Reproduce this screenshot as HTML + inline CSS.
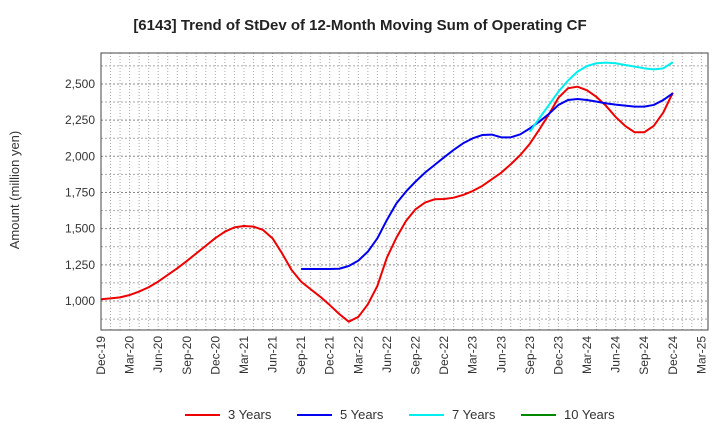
<!DOCTYPE html>
<html><head><meta charset="utf-8"><style>
body{margin:0;background:#fff;font-family:"Liberation Sans",sans-serif;}
</style></head><body>
<svg id="c" width="720" height="440" xmlns="http://www.w3.org/2000/svg" font-family="Liberation Sans, sans-serif">
<text x="360" y="30" text-anchor="middle" font-size="15" font-weight="bold" fill="#222">[6143]  Trend of StDev of 12-Month Moving Sum of Operating CF</text>
<text transform="translate(19,190) rotate(-90)" text-anchor="middle" font-size="13" fill="#333">Amount (million yen)</text>
<g id="grid"></g><g id="series"></g><g id="axes"></g>
</svg>
<script>
const yTicks=[1000,1250,1500,1750,2000,2250,2500];
const xLabels=["Dec-19","Mar-20","Jun-20","Sep-20","Dec-20","Mar-21","Jun-21","Sep-21","Dec-21","Mar-22","Jun-22","Sep-22","Dec-22","Mar-23","Jun-23","Sep-23","Dec-23","Mar-24","Jun-24","Sep-24","Dec-24","Mar-25"];
const s3=[1012,1018,1025,1041,1065,1095,1134,1180,1226,1276,1329,1382,1435,1479,1509,1518,1514,1491,1433,1329,1214,1134,1081,1030,972,910,857,850,890,977,1104,1300,1438,1553,1634,1680,1703,1705,1714,1733,1760,1795,1841,1887,1945,2009,2087,2186,2290,2405,2470,2481,2456,2410,2348,2272,2210,2166,2166,2210,2302,2440].filter((v,i)=>i!==27);
const s5Start=21;
const s5=[1221,1221,1221,1221,1223,1242,1279,1341,1433,1560,1675,1756,1825,1887,1940,1993,2044,2090,2124,2147,2150,2131,2131,2152,2193,2240,2293,2355,2389,2396,2389,2378,2366,2357,2350,2343,2343,2355,2389,2435];
const s7Start=45;
const s7=[2170,2263,2355,2447,2523,2585,2624,2643,2647,2643,2631,2620,2608,2601,2608,2650];
const L=101,R=708,T=53,B=330;
const y=v=>301-(v-1000)*0.1447;
const x=m=>L+m*9.53;
const NS="http://www.w3.org/2000/svg";
function mk(t,a,p){const e=document.createElementNS(NS,t);for(const k in a)e.setAttribute(k,a[k]);p.appendChild(e);return e;}
const g=document.getElementById('grid'),ax=document.getElementById('axes'),sg=document.getElementById('series');
mk('rect',{x:L,y:T,width:R-L,height:B-T,fill:'#fff'},g);
for(let m=1;x(m)<R;m++){const l=mk('line',{x1:x(m),x2:x(m),y1:T,y2:B,stroke:'#aaa','stroke-width':1,'stroke-dasharray':'1,2'},g);

}
for(let v=yTicks[0]-250;v<=2750;v+=125){if(y(v)<=T||y(v)>=B)continue;const l=mk('line',{x1:L,x2:R,y1:y(v),y2:y(v),stroke:v%250==0?'#888':'#aaa','stroke-width':1,'stroke-dasharray':'2,2'},g);

}
mk('rect',{x:L,y:T,width:R-L,height:B-T,fill:'none',stroke:'#444','stroke-width':1},ax);
yTicks.forEach(v=>{const t=mk('text',{x:L-6,y:y(v)+4,'text-anchor':'end','font-size':12,fill:'#333'},ax);t.textContent=v.toLocaleString('en-US');

});
xLabels.forEach((s,i)=>{const t=mk('text',{transform:`translate(${x(i*3)+4},${B+6}) rotate(-90)`,'text-anchor':'end','font-size':12,fill:'#333'},ax);t.textContent=s;

});
function line(arr,start,col,name){const p=mk('polyline',{points:arr.map((v,i)=>x(start+i)+','+y(v)).join(' '),fill:'none',stroke:col,'stroke-width':2,'stroke-linejoin':'round'},sg);

}
line(s3,0,'#ee0000','series-3-years');
line(s5,s5Start,'#0000ee','series-5-years');
line(s7,s7Start,'#00eeee','series-7-years');
const leg=[['3 Years','#ee0000'],['5 Years','#0000ee'],['7 Years','#00eeee'],['10 Years','#008800']];
const lx=[185,297,409,521];
leg.forEach((d,i)=>{const gg=mk('g',{},ax);


mk('line',{x1:lx[i],x2:lx[i]+35,y1:415,y2:415,stroke:d[1],'stroke-width':2},gg);
const t=mk('text',{x:lx[i]+43,y:419,'font-size':13,fill:'#333'},gg);t.textContent=d[0];});
</script>
</body></html>
